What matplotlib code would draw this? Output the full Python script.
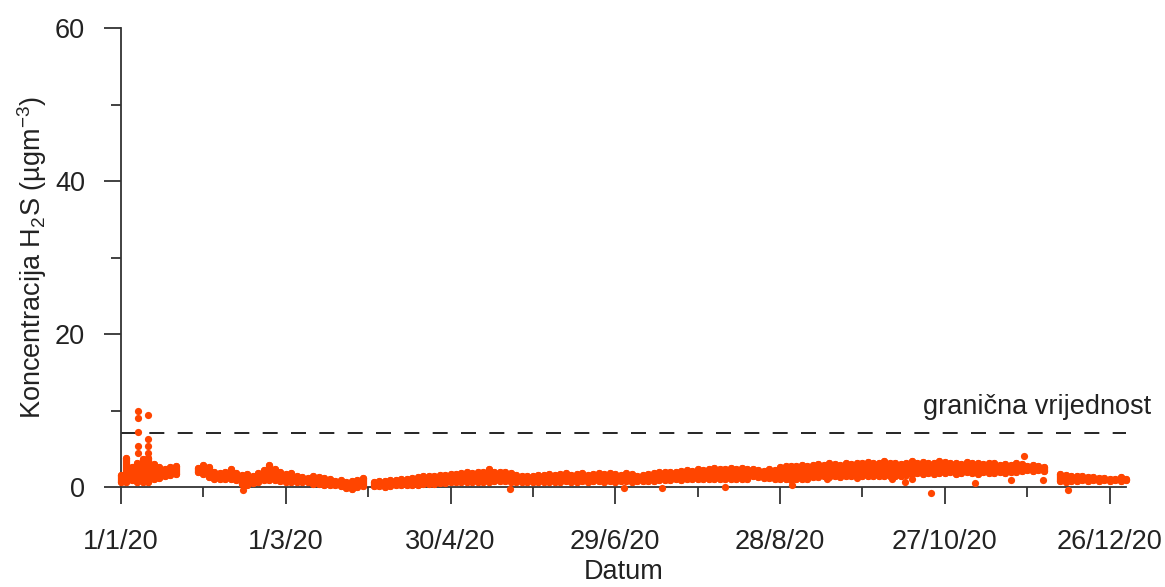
import numpy as np
import matplotlib
matplotlib.use('Agg')
import matplotlib.pyplot as plt

plt.rcParams['font.family'] = ['Liberation Sans', 'DejaVu Sans']
plt.rcParams['mathtext.fontset'] = 'custom'
plt.rcParams['mathtext.rm'] = 'Liberation Sans'
plt.rcParams['mathtext.default'] = 'regular'

# ---- data (days since 1/1/20, values in ugm-3) ----
tick_days = [0, 60, 120, 180, 240, 300, 360]
tick_labels = ['1/1/20', '1/3/20', '30/4/20', '29/6/20', '28/8/20', '27/10/20', '26/12/20']
limit = 7

# band of the measurements per 2 days: lower and upper edge
days_a = list(range(0, 21, 2))
lo_a = [0.7, 0.7, 0.9, 0.7, 0.7, 0.7, 1.0, 1.2, 1.4, 1.6, 1.7]
hi_a = [1.6, 3.8, 2.6, 3.1, 3.6, 3.8, 3.0, 2.6, 2.4, 2.6, 2.7]

days_b = list(range(28, 89, 2))
lo_b = [2.0, 1.7, 1.3, 1.1, 1.1, 1.0, 1.1, 0.9, 0.4, 0.3, 0.5, 0.7, 0.9, 0.9, 0.9, 0.8,
        0.7, 0.7, 0.7, 0.6, 0.6, 0.4, 0.4, 0.3, 0.3, 0.2, 0.1, -0.1, -0.2, 0.0, 0.1]
hi_b = [2.5, 2.9, 2.6, 2.0, 1.8, 1.9, 2.3, 1.8, 1.6, 1.7, 1.5, 1.8, 2.2, 2.9, 2.3, 2.0,
        1.7, 1.8, 1.5, 1.3, 1.2, 1.4, 1.3, 1.2, 1.0, 0.8, 0.9, 0.7, 0.8, 0.9, 1.2]

days_c = list(range(92, 229, 2))
lo_c = [0.1, 0.1, 0.0, 0.1, 0.2, 0.2, 0.3, 0.3, 0.3, 0.4, 0.4, 0.4, 0.5, 0.5, 0.6, 0.6,
        0.6, 0.6, 0.7, 0.7, 0.7, 0.7, 0.8, 0.8, 0.8, 0.7, 0.7, 0.7, 0.6, 0.7, 0.7, 0.7,
        0.7, 0.7, 0.7, 0.8, 0.7, 0.7, 0.8, 0.7, 0.8, 0.8, 0.7, 0.8, 0.7, 0.8, 0.8, 0.7,
        0.8, 0.8, 0.8, 0.8, 0.9, 0.9, 0.9, 1.0, 0.9, 1.0, 1.0, 1.0, 1.1, 1.0, 1.1, 1.1,
        1.0, 1.1, 1.0, 1.1, 1.1]
hi_c = [0.7, 0.8, 0.8, 0.9, 0.9, 1.1, 1.1, 1.2, 1.3, 1.4, 1.4, 1.5, 1.6, 1.6, 1.7, 1.7,
        1.8, 1.9, 1.8, 1.9, 2.0, 2.3, 1.9, 2.0, 1.9, 1.8, 1.6, 1.5, 1.4, 1.5, 1.6, 1.6,
        1.7, 1.6, 1.7, 1.8, 1.6, 1.7, 1.8, 1.6, 1.7, 1.8, 1.7, 1.8, 1.7, 1.6, 1.8, 1.7,
        1.5, 1.6, 1.7, 1.8, 1.9, 2.0, 1.9, 2.0, 2.1, 2.2, 2.1, 2.3, 2.2, 2.4, 2.5, 2.4,
        2.3, 2.5, 2.4, 2.5, 2.3]

days_d = list(range(230, 337, 2))
lo_d = [1.4, 1.3, 1.2, 1.2, 1.1, 1.0, 1.0, 0.9, 1.0, 1.0, 1.1, 1.3, 1.3, 1.4, 1.3, 1.4,
        1.3, 1.4, 1.4, 1.5, 1.4, 1.5, 1.4, 1.5, 1.4, 1.5, 1.4, 1.5, 1.6, 1.7, 1.8, 1.7,
        1.8, 1.7, 1.8, 1.8, 1.9, 1.7, 1.8, 1.9, 1.8, 1.7, 1.9, 1.8, 1.8, 1.9, 1.8, 1.9,
        2.0, 2.1, 2.2, 2.1, 2.2, 2.1]
hi_d = [2.3, 2.2, 2.1, 2.3, 2.2, 2.6, 2.7, 2.8, 2.7, 2.9, 2.8, 2.9, 3.0, 2.9, 3.1, 3.0,
        2.9, 3.1, 3.0, 3.1, 3.2, 3.3, 3.1, 3.2, 3.4, 3.2, 3.1, 3.0, 3.2, 3.4, 3.2, 3.3,
        3.1, 3.2, 3.4, 3.3, 3.1, 3.2, 3.0, 3.3, 3.1, 3.2, 3.0, 3.2, 3.1, 2.9, 3.0, 2.9,
        3.1, 3.0, 2.8, 2.9, 2.7, 2.6]

days_e = list(range(342, 367, 2))
lo_e = [0.8, 0.7, 0.8, 0.8, 0.9, 0.8, 0.9, 0.8, 0.9, 0.8, 0.9, 0.8, 0.9]
hi_e = [1.7, 1.6, 1.5, 1.4, 1.4, 1.3, 1.3, 1.2, 1.2, 1.1, 1.1, 1.3, 1.1]

# single points standing out of the band
out_days = [6.2, 6.2, 6.2, 6.2, 6.2, 9.7, 9.7, 9.7, 9.7, 44.5, 141.5, 183, 197,
            219.8, 244.3, 257, 268, 280.8, 285.6, 288, 295, 311, 324, 328.7, 335.8, 345]
out_vals = [9.9, 9.0, 7.2, 5.4, 4.4, 9.4, 6.3, 5.3, 4.4, -0.4, -0.3, -0.1, -0.1,
            0.0, 0.3, 1.0, 1.2, 1.1, 0.7, 1.0, -0.8, 0.5, 0.9, 4.0, 0.9, -0.4]

days = days_a + days_b + days_c + days_d + days_e
lo = lo_a + lo_b + lo_c + lo_d + lo_e
hi = hi_a + hi_b + hi_c + hi_d + hi_e

col = '#ff4500'
dot = 5.2  # marker diameter in points

fig = plt.figure(figsize=(11.65, 5.87), dpi=100)
ax = fig.add_axes([121/1165, 100/587, 1005/1165, 459/587])

ax.vlines(days, lo, hi, color=col, lw=dot, capstyle='round', zorder=3, clip_on=False)
ax.scatter(days, lo, s=dot**2, color=col, lw=0, zorder=3, clip_on=False)
ax.scatter(days, hi, s=dot**2, color=col, lw=0, zorder=3, clip_on=False)
ax.scatter(out_days, out_vals, s=dot**2, color=col, lw=0, zorder=3, clip_on=False)

ax.axhline(limit, color='k', lw=1.2, dashes=(9, 8), zorder=2)
ax.text(375, 10.5, 'granična vrijednost', ha='right', va='center', fontsize=19.5,
        color='#222222')

ax.set_xlim(0, 366)
ax.set_ylim(0, 60)
ax.set_xticks(tick_days)
ax.set_xticklabels(tick_labels)
ax.set_xticks([30, 90, 150, 210, 270, 330], minor=True)
ax.set_yticks([0, 20, 40, 60])
ax.set_yticks([10, 30, 50], minor=True)

for s in ['top', 'right']:
    ax.spines[s].set_visible(False)
for s in ['left', 'bottom']:
    ax.spines[s].set_linewidth(1.3)
    ax.spines[s].set_color('#333333')

ax.tick_params(which='major', length=12, width=1.3, color='#333333',
               labelsize=19.5, labelcolor='#222222')
ax.tick_params(which='minor', length=7, width=1.3, color='#333333')
ax.tick_params(axis='x', which='major', pad=18)
ax.tick_params(axis='y', which='major', pad=14)

ax.set_xlabel('Datum', fontsize=19.5, color='#222222', labelpad=3)
ax.set_ylabel('Koncentracija H$_2$S (µgm$^{-3}$)', fontsize=19.5, color='#222222',
              labelpad=4)

fig.savefig('out.png', dpi=100)
